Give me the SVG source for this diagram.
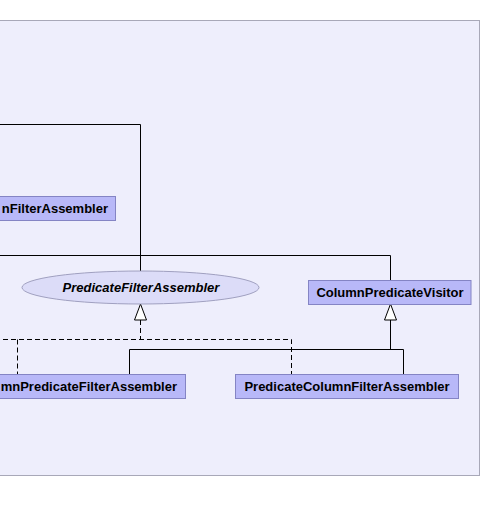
<svg xmlns="http://www.w3.org/2000/svg" width="482" height="513" viewBox="0 0 482 513">
<style>
.box{fill:#B8B8F8;stroke:#8484C4;stroke-width:1}
.lbl{font-family:"Liberation Sans",Arial,sans-serif;font-size:13px;font-weight:bold;fill:#000}
.it{font-style:italic}
.ln{fill:none;stroke:#000;stroke-width:1}
.dash{stroke-dasharray:5,3}
.tri{fill:#fff;stroke:#000;stroke-width:1}
</style>
<rect x="-10" y="20.5" width="489.5" height="455" fill="#EEEEFC" stroke="#A8A8B8" stroke-width="1"/>
<g id="connectors">
<polyline class="ln" points="-5,124.5 140.5,124.5 140.5,271"/>
<polyline class="ln" points="-5,255.5 390.5,255.5 390.5,280"/>
<polyline class="ln dash" points="140.5,320 140.5,339.5"/>
<polyline class="ln dash" points="-5,339.5 291.5,339.5 291.5,374"/>
<polyline class="ln dash" points="17.5,339.5 17.5,374"/>
<polygon class="tri" points="140.5,304 134.5,320 146.5,320"/>
<polyline class="ln" points="390.5,320 390.5,349.5"/>
<polyline class="ln" points="129.5,374 129.5,349.5 403.5,349.5 403.5,374"/>
<polygon class="tri" points="390.5,304 384.5,320 396.5,320"/>
</g>
<g id="node-ColumnFilterAssembler">
<rect class="box" x="-10" y="196.5" width="125.5" height="24"/>
<text class="lbl" x="108" y="213" text-anchor="end">nFilterAssembler</text>
</g>
<g id="node-PredicateFilterAssembler">
<ellipse cx="140.5" cy="287.5" rx="118.5" ry="16.5" fill="#DCDCF8" stroke="#A0A0C0" stroke-width="1"/>
<text class="lbl it" x="141" y="292" text-anchor="middle">PredicateFilterAssembler</text>
</g>
<g id="node-ColumnPredicateVisitor">
<rect class="box" x="308.5" y="280.5" width="162.5" height="24"/>
<text class="lbl" x="390" y="297" text-anchor="middle">ColumnPredicateVisitor</text>
</g>
<g id="node-ColumnPredicateFilterAssembler">
<rect class="box" x="-10" y="374.5" width="195.5" height="24"/>
<text class="lbl" x="177" y="391" text-anchor="end">mnPredicateFilterAssembler</text>
</g>
<g id="node-PredicateColumnFilterAssembler">
<rect class="box" x="235.5" y="374.5" width="223" height="24"/>
<text class="lbl" x="347" y="391" text-anchor="middle">PredicateColumnFilterAssembler</text>
</g>
</svg>
